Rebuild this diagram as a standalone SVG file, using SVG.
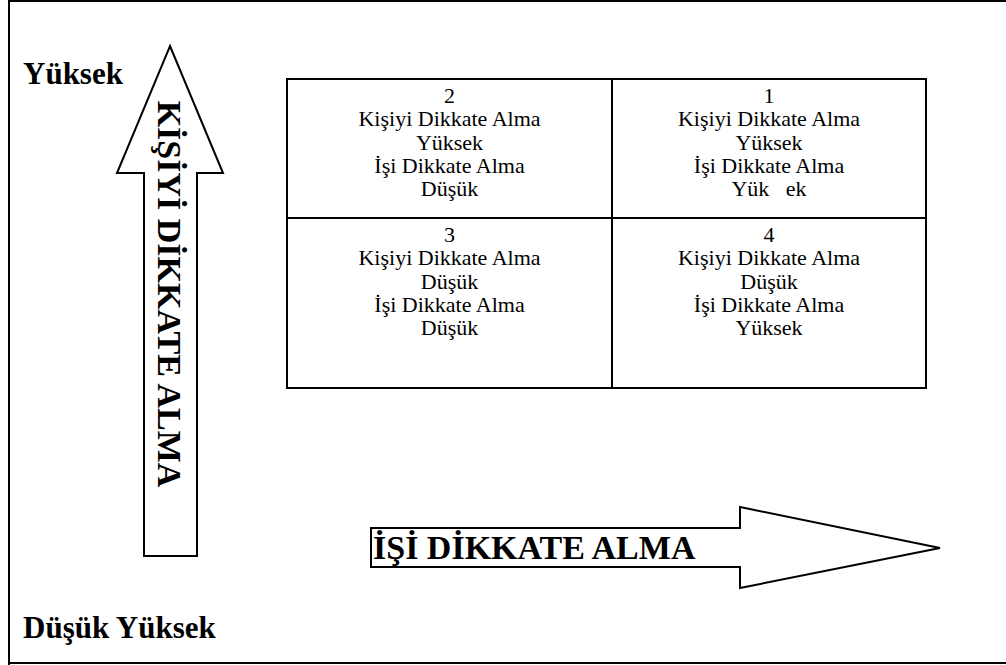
<svg xmlns="http://www.w3.org/2000/svg" width="1006" height="665" viewBox="0 0 1006 665">
  <style>
    .frame { fill: none; stroke: #000; stroke-width: 2; }
    .shape { fill: #fff; stroke: #000; stroke-width: 2; stroke-linejoin: miter; }
    .grid { fill: none; stroke: #000; stroke-width: 2; }
    .cell { font-family: "Liberation Serif", "Times New Roman", serif; font-size: 22px; fill: #000; text-anchor: middle; }
    .lbl { font-family: "Liberation Serif", "Times New Roman", serif; font-size: 31px; font-weight: bold; fill: #000; }
    .axis { font-family: "Liberation Serif", "Times New Roman", serif; font-size: 34px; font-weight: bold; fill: #000; }
  </style>

  <rect width="1006" height="665" fill="#fff"/>
  <!-- outer page frame -->
  <path class="frame" d="M9,665 V1 H1010 M9,663 H1010"/>

  <!-- corner labels -->
  <text class="lbl" x="23" y="84">Yüksek</text>
  <text class="lbl" x="23" y="638">Düşük Yüksek</text>

  <!-- vertical arrow: person orientation -->
  <g id="arrow-person">
    <path class="shape" d="M170,46 L223,173 L197,173 L197,556 L144,556 L144,173 L117,173 Z"/>
    <text class="axis" transform="translate(158,294) rotate(90)" text-anchor="middle">KİŞİYİ DİKKATE ALMA</text>
  </g>

  <!-- horizontal arrow: task orientation -->
  <g id="arrow-task">
    <path class="shape" d="M371,528 L740,528 L740,507 L940,548 L740,588 L740,567 L371,567 Z"/>
    <text class="axis" x="373" y="559">İŞİ DİKKATE ALMA</text>
  </g>

  <!-- 2x2 grid -->
  <g id="grid">
    <rect class="grid" x="287" y="79" width="639" height="309"/>
    <line class="grid" x1="612" y1="79" x2="612" y2="388"/>
    <line class="grid" x1="287" y1="218" x2="926" y2="218"/>
  </g>

  <g id="cell-2">
    <text class="cell" x="449.5" y="103">2</text>
    <text class="cell" x="449.5" y="126.3">Kişiyi Dikkate Alma</text>
    <text class="cell" x="449.5" y="149.6">Yüksek</text>
    <text class="cell" x="449.5" y="172.9">İşi Dikkate Alma</text>
    <text class="cell" x="449.5" y="196.2">Düşük</text>
  </g>
  <g id="cell-1">
    <text class="cell" x="769" y="103">1</text>
    <text class="cell" x="769" y="126.3">Kişiyi Dikkate Alma</text>
    <text class="cell" x="769" y="149.6">Yüksek</text>
    <text class="cell" x="769" y="172.9">İşi Dikkate Alma</text>
    <text class="cell" x="769" y="196.2" xml:space="preserve">Yük   ek</text>
  </g>
  <g id="cell-3">
    <text class="cell" x="449.5" y="242">3</text>
    <text class="cell" x="449.5" y="265.3">Kişiyi Dikkate Alma</text>
    <text class="cell" x="449.5" y="288.6">Düşük</text>
    <text class="cell" x="449.5" y="311.9">İşi Dikkate Alma</text>
    <text class="cell" x="449.5" y="335.2">Düşük</text>
  </g>
  <g id="cell-4">
    <text class="cell" x="769" y="242">4</text>
    <text class="cell" x="769" y="265.3">Kişiyi Dikkate Alma</text>
    <text class="cell" x="769" y="288.6">Düşük</text>
    <text class="cell" x="769" y="311.9">İşi Dikkate Alma</text>
    <text class="cell" x="769" y="335.2">Yüksek</text>
  </g>
</svg>
